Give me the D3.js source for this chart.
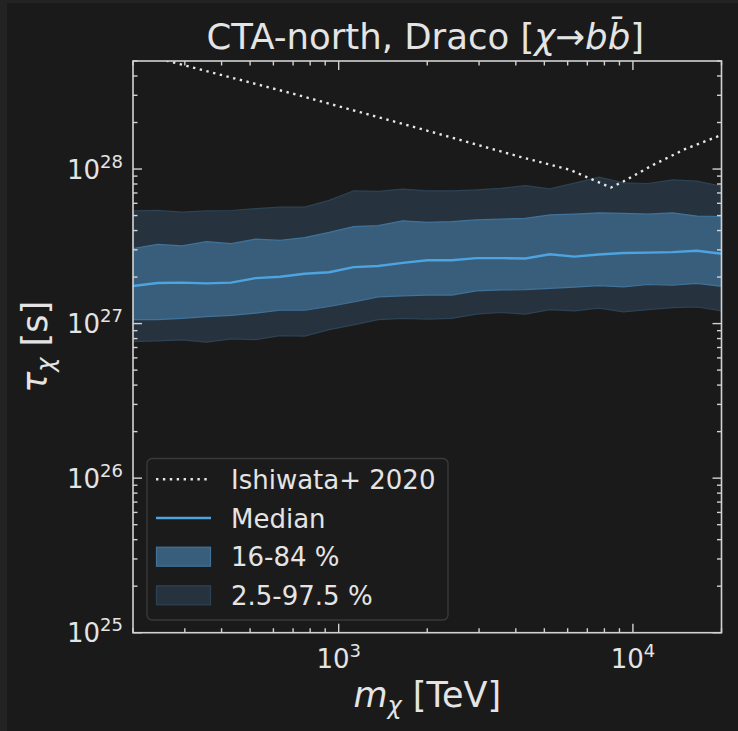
<!DOCTYPE html>
<html>
<head>
<meta charset="utf-8">
<script src="https://cdn.jsdelivr.net/npm/d3@7"></script>
<style>
    html, body { margin: 0; padding: 0; background: #232323; }
    svg { display: block; }
    text { font-family: "DejaVu Sans", sans-serif; fill: #e4e4e4; }
</style>
</head>
<body>
<div id="chart"></div>
<script>
// dark-band lifetime limit plot (CTA-north, Draco)

// mass grid [TeV]
const MASS = [200, 242.3, 293.6, 355.6, 430.9, 522.2, 632.5, 766.2, 928.3,
    1124.6, 1362.6, 1650.8, 2000, 2423, 2936, 3556, 4309, 5220, 6324,
    7662, 9283, 11246, 13626, 16508, 20000];

// lifetime quantiles [s]
const Q975 = [5.36e27, 5.40e27, 5.26e27, 5.36e27, 5.39e27, 5.55e27, 5.67e27, 5.67e27, 6.27e27,
    7.23e27, 7.17e27, 7.41e27, 7.23e27, 7.23e27, 7.33e27, 7.50e27, 7.82e27, 7.44e27, 8.10e27,
    8.86e27, 8.14e27, 8.06e27, 8.51e27, 8.35e27, 7.74e27];
const Q84 = [3.06e27, 3.25e27, 3.18e27, 3.39e27, 3.29e27, 3.52e27, 3.45e27, 3.60e27, 3.89e27,
    4.24e27, 4.30e27, 4.62e27, 4.52e27, 4.57e27, 4.69e27, 4.74e27, 4.80e27, 5.05e27, 5.11e27,
    5.21e27, 5.17e27, 5.11e27, 5.21e27, 4.96e27, 4.93e27];
const MEDIAN = [1.75e27, 1.83e27, 1.84e27, 1.82e27, 1.84e27, 1.97e27, 2.01e27, 2.10e27, 2.15e27,
    2.32e27, 2.36e27, 2.47e27, 2.57e27, 2.57e27, 2.65e27, 2.65e27, 2.64e27, 2.81e27, 2.71e27,
    2.80e27, 2.86e27, 2.88e27, 2.90e27, 2.96e27, 2.83e27];
const Q16 = [1.06e27, 1.06e27, 1.08e27, 1.11e27, 1.13e27, 1.17e27, 1.22e27, 1.22e27, 1.29e27,
    1.38e27, 1.49e27, 1.51e27, 1.53e27, 1.53e27, 1.63e27, 1.65e27, 1.66e27, 1.69e27, 1.72e27,
    1.76e27, 1.73e27, 1.79e27, 1.77e27, 1.82e27, 1.74e27];
const Q025 = [7.65e26, 7.73e26, 7.84e26, 7.58e26, 7.96e26, 7.88e26, 8.36e26, 8.29e26, 9.13e26,
    9.81e26, 1.06e27, 1.08e27, 1.07e27, 1.08e27, 1.15e27, 1.18e27, 1.15e27, 1.23e27, 1.21e27,
    1.26e27, 1.19e27, 1.23e27, 1.27e27, 1.28e27, 1.21e27];

// Ishiwata+ 2020 reference limit
const ISHIWATA_MASS = [200, 263, 709, 1960, 4130, 6110, 8420, 9272, 11730, 15030, 20000];
const ISHIWATA_TAU = [5.75e28, 5.0e28, 3.05e28, 1.79e28, 1.20e28, 9.88e27, 7.59e27, 8.30e27,
    1.065e28, 1.345e28, 1.66e28];

const X_DOMAIN = [200, 2e4];
const Y_DOMAIN = [1e25, 5e28];
const X_MAJOR = [1e3, 1e4];
const Y_MAJOR = [1e25, 1e26, 1e27, 1e28];

const LEGEND_LABELS = ['Ishiwata+ 2020', 'Median', '16-84 %', '2.5-97.5 %'];

(function () {
    'use strict';

    const CFG = {
        width: 738,
        height: 731,
        left: 133,
        right: 721.5,
        top: 61,
        bottom: 632.7,
        bg: '#1a1a1a',
        border: '#232323',
        spine: '#d2d2d2',
        outerFill: '#26333e',
        outerEdge: '#2d4253',
        innerFill: '#385e7b',
        innerEdge: '#40729a',
        medianColor: '#4ea4e0',
        dotColor: '#e8e8e8'
    };

    const svg = d3.select('#chart').append('svg')
        .attr('width', CFG.width)
        .attr('height', CFG.height);

    // background panels
    svg.append('rect').attr('width', CFG.width).attr('height', CFG.height).attr('fill', CFG.border);
    svg.append('rect').attr('x', 7).attr('y', 3)
        .attr('width', CFG.width - 7).attr('height', CFG.height - 3)
        .attr('fill', CFG.bg);

    const x = d3.scaleLog().domain(X_DOMAIN).range([CFG.left, CFG.right]);
    const y = d3.scaleLog().domain(Y_DOMAIN).range([CFG.bottom, CFG.top]);

    svg.append('clipPath').attr('id', 'plot-clip')
        .append('rect')
        .attr('x', CFG.left).attr('y', CFG.top)
        .attr('width', CFG.right - CFG.left).attr('height', CFG.bottom - CFG.top);

    const plot = svg.append('g').attr('clip-path', 'url(#plot-clip)');

    const idx = d3.range(MASS.length);

    // bands
    function band(lo, hi, fill, edge) {
        const area = d3.area()
            .x(function (i) { return x(MASS[i]); })
            .y0(function (i) { return y(lo[i]); })
            .y1(function (i) { return y(hi[i]); });
        plot.append('path').datum(idx)
            .attr('d', area)
            .attr('fill', fill)
            .attr('stroke', edge)
            .attr('stroke-width', 1.2);
    }
    band(Q025, Q975, CFG.outerFill, CFG.outerEdge);
    band(Q16, Q84, CFG.innerFill, CFG.innerEdge);

    // median
    const medLine = d3.line()
        .x(function (i) { return x(MASS[i]); })
        .y(function (i) { return y(MEDIAN[i]); });
    plot.append('path').datum(idx)
        .attr('d', medLine)
        .attr('fill', 'none')
        .attr('stroke', CFG.medianColor)
        .attr('stroke-width', 2.4);

    // Ishiwata dotted line
    const ishLine = d3.line()
        .x(function (i) { return x(ISHIWATA_MASS[i]); })
        .y(function (i) { return y(ISHIWATA_TAU[i]); });
    plot.append('path').datum(d3.range(ISHIWATA_MASS.length))
        .attr('d', ishLine)
        .attr('fill', 'none')
        .attr('stroke', CFG.dotColor)
        .attr('stroke-width', 2.4)
        .attr('stroke-dasharray', '2.4,4.5');

    // minor tick values (log decades)
    function minorTicks(domain) {
        const out = [];
        const lo = Math.floor(Math.log10(domain[0]));
        const hi = Math.ceil(Math.log10(domain[1]));
        for (let e = lo; e <= hi; e++) {
            for (let m = 2; m <= 9; m++) {
                const v = m * Math.pow(10, e);
                if (v >= domain[0] && v <= domain[1]) {
                    out.push(v);
                }
            }
        }
        return out;
    }

    const ticks = svg.append('g')
        .attr('stroke', CFG.spine)
        .attr('stroke-width', 1.4);

    function drawTicks(values, len) {
        values.forEach(function (v) {
            const px = x(v);
            ticks.append('line').attr('x1', px).attr('x2', px)
                .attr('y1', CFG.bottom).attr('y2', CFG.bottom - len);
            ticks.append('line').attr('x1', px).attr('x2', px)
                .attr('y1', CFG.top).attr('y2', CFG.top + len);
        });
    }
    function drawYTicks(values, len) {
        values.forEach(function (v) {
            const py = y(v);
            ticks.append('line').attr('y1', py).attr('y2', py)
                .attr('x1', CFG.left).attr('x2', CFG.left + len);
            ticks.append('line').attr('y1', py).attr('y2', py)
                .attr('x1', CFG.right).attr('x2', CFG.right - len);
        });
    }
    drawTicks(minorTicks(X_DOMAIN), 4.5);
    drawTicks(X_MAJOR, 9);
    drawYTicks(minorTicks(Y_DOMAIN), 4.5);
    drawYTicks(Y_MAJOR, 9);

    // spines
    svg.append('rect')
        .attr('x', CFG.left).attr('y', CFG.top)
        .attr('width', CFG.right - CFG.left).attr('height', CFG.bottom - CFG.top)
        .attr('fill', 'none')
        .attr('stroke', CFG.spine)
        .attr('stroke-width', 1.6);

    // power-of-ten label
    function powLabel(g, v) {
        const e = Math.round(Math.log10(v));
        g.append('tspan').text('10');
        g.append('tspan').attr('dy', -11).attr('font-size', 18).text(e);
    }

    X_MAJOR.forEach(function (v) {
        const t = svg.append('text')
            .attr('x', x(v))
            .attr('y', 668)
            .attr('text-anchor', 'middle')
            .attr('font-size', 26);
        powLabel(t, v);
    });
    Y_MAJOR.forEach(function (v) {
        const t = svg.append('text')
            .attr('x', 123)
            .attr('y', y(v) + 9.5)
            .attr('text-anchor', 'end')
            .attr('font-size', 26);
        powLabel(t, v);
    });

    // axis labels
    const xl = svg.append('text')
        .attr('x', (CFG.left + CFG.right) / 2)
        .attr('y', 707)
        .attr('text-anchor', 'middle')
        .attr('font-size', 35);
    xl.append('tspan').attr('font-style', 'italic').text('m');
    xl.append('tspan').attr('font-style', 'italic').attr('font-size', 24).attr('dy', 7).text('χ');
    xl.append('tspan').attr('dy', -7).text(' [TeV]');

    const yl = svg.append('text')
        .attr('transform', 'translate(47,' + ((CFG.top + CFG.bottom) / 2) + ') rotate(-90)')
        .attr('text-anchor', 'middle')
        .attr('font-size', 35);
    yl.append('tspan').attr('font-style', 'italic').text('τ');
    yl.append('tspan').attr('font-style', 'italic').attr('font-size', 24).attr('dy', 7).text('χ');
    yl.append('tspan').attr('dy', -7).text(' [s]');

    // title
    const title = svg.append('text')
        .attr('x', (CFG.left + CFG.right) / 2 - 2)
        .attr('y', 49)
        .attr('text-anchor', 'middle')
        .attr('font-size', 35.5);
    title.append('tspan').text('CTA-north, Draco [');
    title.append('tspan').attr('font-style', 'italic').text('χ');
    title.append('tspan').text('→');
    title.append('tspan').attr('font-style', 'italic').text('bb\u0304');
    title.append('tspan').text(']');

    // legend
    const lg = svg.append('g');
    lg.append('rect')
        .attr('x', 147).attr('y', 458.5)
        .attr('width', 301).attr('height', 161.5)
        .attr('rx', 5)
        .attr('fill', '#1c1c1c')
        .attr('fill-opacity', 0.85)
        .attr('stroke', '#3a3a3a')
        .attr('stroke-width', 1.3);

    const rowY = [479.3, 518, 556.7, 595.3];
    lg.append('line')
        .attr('x1', 156).attr('x2', 211)
        .attr('y1', rowY[0]).attr('y2', rowY[0])
        .attr('stroke', CFG.dotColor).attr('stroke-width', 2.4)
        .attr('stroke-dasharray', '2.4,4.5');
    lg.append('line')
        .attr('x1', 156).attr('x2', 211)
        .attr('y1', rowY[1]).attr('y2', rowY[1])
        .attr('stroke', CFG.medianColor).attr('stroke-width', 2.4);
    lg.append('rect')
        .attr('x', 156.5).attr('y', rowY[2] - 9.5)
        .attr('width', 54).attr('height', 19)
        .attr('fill', CFG.innerFill).attr('stroke', CFG.innerEdge).attr('stroke-width', 1.2);
    lg.append('rect')
        .attr('x', 156.5).attr('y', rowY[3] - 9.5)
        .attr('width', 54).attr('height', 19)
        .attr('fill', CFG.outerFill).attr('stroke', CFG.outerEdge).attr('stroke-width', 1.2);

    LEGEND_LABELS.forEach(function (s, i) {
        lg.append('text')
            .attr('x', 231)
            .attr('y', rowY[i] + 9.5)
            .attr('font-size', 26)
            .text(s);
    });
})();
</script>
</body>
</html>
